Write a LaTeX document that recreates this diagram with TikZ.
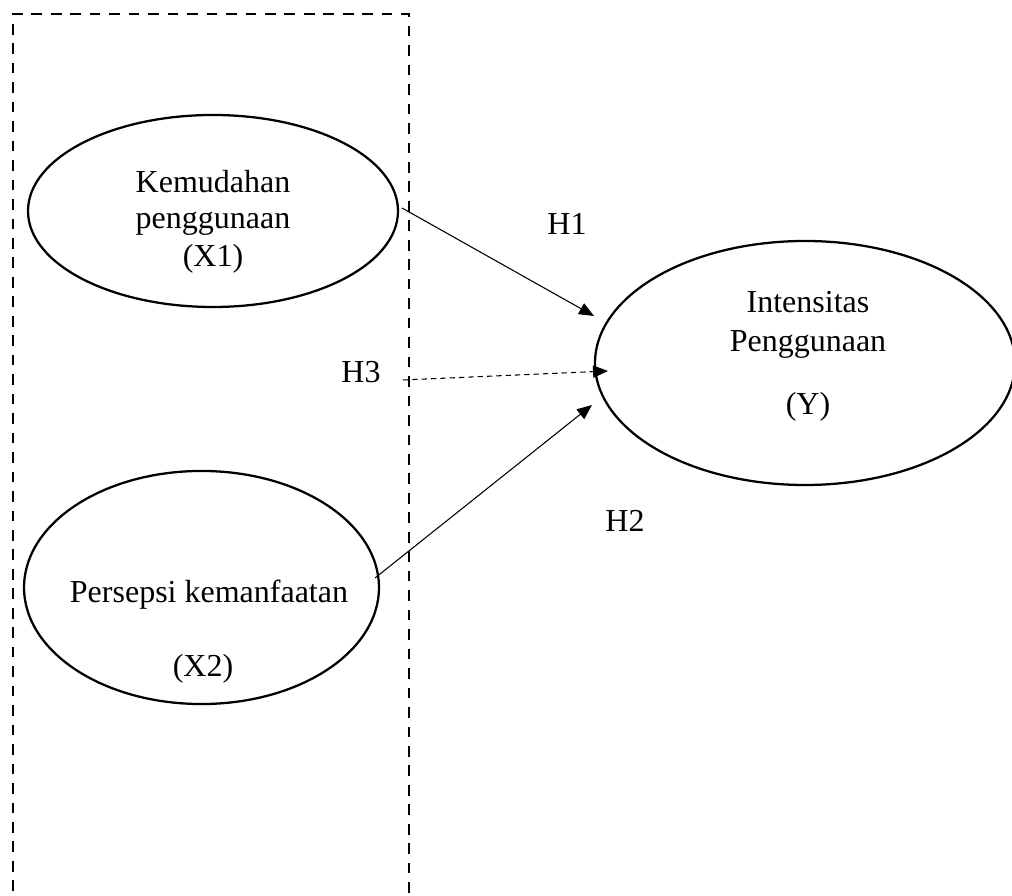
\documentclass[tikz,border=0pt]{standalone}
\usepackage{fontspec}
\setmainfont{Liberation Serif}
\usetikzlibrary{arrows.meta,shapes.geometric}
\tikzset{
  var/.style={draw, ellipse, line width=0.85pt, inner sep=0pt, outer sep=0pt},
  lbl/.style={anchor=base, inner sep=0pt, font=\fontsize{12pt}{14pt}\selectfont},
  frame/.style={line width=1.05pt, dash pattern=on 4pt off 3.3pt},
  hyp/.style={line width=0.4pt, -{Triangle[length=5.6pt,width=4.6pt]}},
  hypdash/.style={hyp, dash pattern=on 2pt off 1.5pt}
}
\begin{document}
\begin{tikzpicture}[x=0.375pt,y=-0.375pt]
\useasboundingbox (0,0) rectangle (1012,896);
\clip (0,0) rectangle (1012,896);
% dashed frame
\draw[frame] (13,930) -- (13,14) -- (409,14) -- (409,930);
% ellipses
\node[var, minimum width=138.75pt, minimum height=72pt] (e1) at (213,211) {};
\node[var, minimum width=133.1pt, minimum height=87.4pt] (e2) at (201.5,587.5) {};
\node[var, minimum width=157.5pt, minimum height=91.5pt] (ey) at (805,363) {};
% texts
\node[lbl] (t1a) at (213,193) {Kemudahan};
\node[lbl] (t1b) at (213,229) {penggunaan};
\node[lbl] (t1c) at (213,267) {(X1)};
\node[lbl] (t2a) at (209,603) {Persepsi kemanfaatan};
\node[lbl] (t2b) at (203,677) {(X2)};
\node[lbl] (tya) at (808,313) {Intensitas};
\node[lbl] (tyb) at (808,352) {Penggunaan};
\node[lbl] (tyc) at (808,415) {(Y)};
% hypothesis labels
\node[lbl] (h1) at (567,235) {H1};
\node[lbl] (h3) at (361,383) {H3};
\node[lbl] (h2) at (625,532) {H2};
% connector endpoints
\coordinate (s1) at (402,208);
\coordinate (p1) at (594,316);
\coordinate (s3) at (403,380);
\coordinate (p3) at (608,371);
\coordinate (s2) at (375,578);
\coordinate (p2) at (592,405);
\draw[hyp] (s1) -- (p1);
\draw[hypdash] (s3) -- (p3);
\draw[hyp] (s2) -- (p2);
\end{tikzpicture}
\end{document}
